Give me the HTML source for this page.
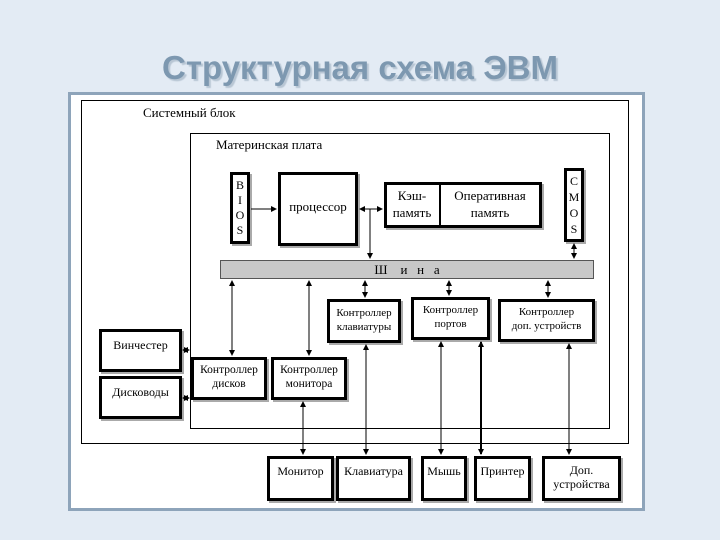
<!DOCTYPE html>
<html><head><meta charset="utf-8"><style>
body{margin:0;width:720px;height:540px;background:#e3ebf4;position:relative;overflow:hidden;font-family:"Liberation Serif",serif;}
.t{position:absolute;left:0;width:720px;top:49px;text-align:center;font:bold 33px "Liberation Sans",sans-serif;color:#7d98b0;text-shadow:2px 2px 1px #b8c6d4;}
.f{position:absolute;left:68px;top:92px;width:571px;height:413px;border:3px solid #8ea4ba;background:#fff;}
.b{position:absolute;box-sizing:border-box;background:#fff;border:3px solid #000;box-shadow:2px 2px 0 #aaa;font-size:12px;text-align:center;line-height:14px;}
.th{border:1px solid #000;box-shadow:none;}
.l{position:absolute;font-size:13px;}
svg{position:absolute;left:0;top:0;}
</style></head><body>
<div class="t">Структурная схема ЭВМ</div>
<div class="f"></div>
<div class="b th" style="left:81px;top:100px;width:548px;height:344px"></div>
<div class="l" style="left:143px;top:105px">Системный блок</div>
<div class="b th" style="left:190px;top:133px;width:420px;height:296px"></div>
<div class="l" style="left:216px;top:137px">Материнская плата</div>
<div class="b" style="left:230px;top:172px;width:20px;height:72px;padding-top:3px;line-height:15px">B<br>I<br>O<br>S</div>
<div class="b" style="left:278px;top:172px;width:80px;height:74px;padding-top:25px;font-size:13px">процессор</div>
<div class="b" style="left:384px;top:182px;width:158px;height:46px"></div>
<div class="l" style="left:387px;top:187px;width:50px;text-align:center;font-size:13px;line-height:17px">Кэш-<br>память</div>
<div style="position:absolute;left:439px;top:184px;width:2px;height:42px;background:#000"></div>
<div class="l" style="left:441px;top:187px;width:98px;text-align:center;font-size:13px;line-height:17px">Оперативная<br>память</div>
<div class="b" style="left:564px;top:168px;width:20px;height:74px;padding-top:2px;line-height:16px">C<br>M<br>O<br>S</div>
<div style="position:absolute;left:220px;top:260px;width:374px;height:19px;background:#c8c8c8;border:1px solid #555;box-sizing:border-box;text-align:center;font-size:13px;line-height:17px">Ш&nbsp;&nbsp;&nbsp;&nbsp;и&nbsp;&nbsp;&nbsp;н&nbsp;&nbsp;&nbsp;а</div>
<div class="b" style="left:327px;top:299px;width:74px;height:44px;padding-top:4px;font-size:11px">Контроллер<br>клавиатуры</div>
<div class="b" style="left:411px;top:297px;width:79px;height:43px;padding-top:3px;font-size:11px">Контроллер<br>портов</div>
<div class="b" style="left:498px;top:299px;width:97px;height:43px;padding-top:3px;font-size:11px">Контроллер<br>доп. устройств</div>
<div class="b" style="left:99px;top:329px;width:83px;height:43px;padding-top:6px">Винчестер</div>
<div class="b" style="left:99px;top:376px;width:83px;height:43px;padding-top:6px">Дисководы</div>
<div class="b" style="left:191px;top:357px;width:76px;height:43px;padding-top:3px;font-size:11.5px">Контроллер<br>дисков</div>
<div class="b" style="left:271px;top:357px;width:76px;height:43px;padding-top:3px;font-size:11.5px">Контроллер<br>монитора</div>
<div class="b" style="left:267px;top:456px;width:67px;height:45px;padding-top:5px">Монитор</div>
<div class="b" style="left:336px;top:456px;width:75px;height:45px;padding-top:5px">Клавиатура</div>
<div class="b" style="left:421px;top:456px;width:46px;height:45px;padding-top:5px">Мышь</div>
<div class="b" style="left:474px;top:456px;width:57px;height:45px;padding-top:5px">Принтер</div>
<div class="b" style="left:542px;top:456px;width:79px;height:45px;padding-top:4px">Доп.<br>устройства</div>
<svg width="720" height="540" stroke="#000" stroke-width="1" fill="#000">
<defs><marker id="a" markerUnits="userSpaceOnUse" markerWidth="6" markerHeight="6" refX="5" refY="3" orient="auto"><path d="M0,0L6,3L0,6z" stroke="none"/></marker>
<marker id="s" markerUnits="userSpaceOnUse" markerWidth="6" markerHeight="6" refX="1" refY="3" orient="auto"><path d="M6,0L0,3L6,6z" stroke="none"/></marker></defs>
<line x1="251" y1="209" x2="276" y2="209" marker-end="url(#a)"/>
<line x1="360" y1="209" x2="382" y2="209" marker-start="url(#s)" marker-end="url(#a)"/>
<line x1="370" y1="209" x2="370" y2="258" marker-end="url(#a)"/>
<line x1="574" y1="244" x2="574" y2="258" marker-start="url(#s)" marker-end="url(#a)"/>
<line x1="232" y1="281" x2="232" y2="355" marker-start="url(#s)" marker-end="url(#a)"/>
<line x1="309" y1="281" x2="309" y2="355" marker-start="url(#s)" marker-end="url(#a)"/>
<line x1="365" y1="281" x2="365" y2="297" marker-start="url(#s)" marker-end="url(#a)"/>
<line x1="449" y1="281" x2="449" y2="295" marker-start="url(#s)" marker-end="url(#a)"/>
<line x1="548" y1="281" x2="548" y2="297" marker-start="url(#s)" marker-end="url(#a)"/>
<line x1="183" y1="350" x2="189" y2="350" marker-start="url(#s)" marker-end="url(#a)"/>
<line x1="183" y1="398" x2="189" y2="398" marker-start="url(#s)" marker-end="url(#a)"/>
<line x1="303" y1="402" x2="303" y2="454" marker-start="url(#s)" marker-end="url(#a)"/>
<line x1="366" y1="345" x2="366" y2="454" marker-start="url(#s)" marker-end="url(#a)"/>
<line x1="441" y1="342" x2="441" y2="454" marker-start="url(#s)" marker-end="url(#a)"/>
<line x1="481" y1="342" x2="481" y2="454" stroke-width="2" marker-start="url(#s)" marker-end="url(#a)"/>
<line x1="569" y1="344" x2="569" y2="454" marker-start="url(#s)" marker-end="url(#a)"/>
</svg>
</body></html>
